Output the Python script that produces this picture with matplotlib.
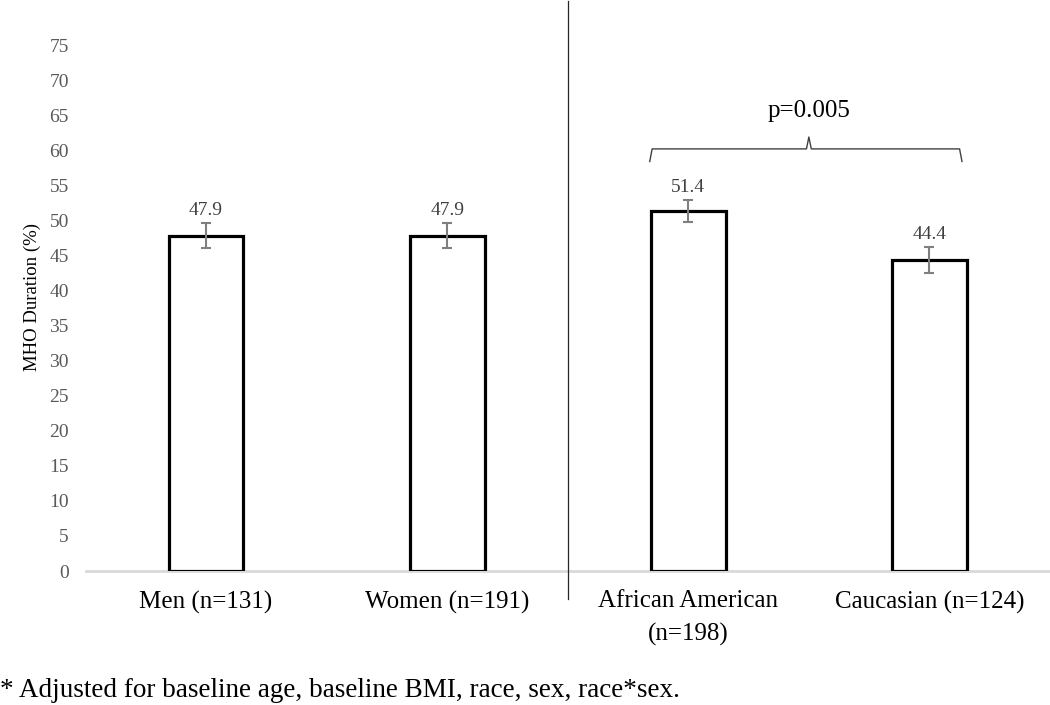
import numpy as np
import matplotlib
matplotlib.use("Agg")
import matplotlib.pyplot as plt

# ================================
# DATA
# ================================
categories = ["Men (n=131)", "Women (n=191)", "African American\n(n=198)", "Caucasian (n=124)"]
means = [47.9, 47.9, 51.4, 44.4]
errors = [1.8, 1.75, 1.6, 1.85]
value_labels = ["47.9", "47.9", "51.4", "44.4"]
yticks = list(range(0, 80, 5))
p_text = "p=0.005"
footnote = "* Adjusted for baseline age, baseline BMI, race, sex, race*sex."

plt.rcParams["font.family"] = ["Liberation Serif", "DejaVu Serif"]

fig = plt.figure(figsize=(10.5, 7.05), dpi=100)
ax = fig.add_axes([85.5 / 1050, 1 - 571 / 705, 1 - 85.5 / 1050, 560 / 705])

x = np.arange(len(categories))
bar_w = 0.31

ax.bar(x, means, width=bar_w, color="white", edgecolor="black", linewidth=2.3, zorder=2)
ax.errorbar(x, means, yerr=errors, fmt="none", ecolor="#7f7f7f", elinewidth=1.5,
            capsize=3.6, capthick=1.5, zorder=3)

# value labels above the error bars
for xi, m, e, lab in zip(x, means, errors, value_labels):
    ax.annotate(lab, (xi, m + e), xytext=(0, 6), textcoords="offset points",
                ha="center", va="baseline", fontsize=14, color="#404040")

ax.set_xlim(-0.5, len(categories) - 0.5)
ax.set_ylim(0, 80)
ax.set_yticks(yticks)
ax.set_xticks(x)
ax.set_xticklabels(categories, fontsize=18, color="black", linespacing=1.6)
ax.tick_params(axis="x", length=0, pad=14)
ax.tick_params(axis="y", length=0, pad=12, labelsize=14, labelcolor="#595959")

for s in ["top", "right", "left"]:
    ax.spines[s].set_visible(False)
ax.spines["bottom"].set_color("#d9d9d9")
ax.spines["bottom"].set_linewidth(2)
ax.spines["bottom"].set_zorder(1)

ax.set_ylabel("MHO Duration (%)", fontsize=13.5, color="black")
ax.yaxis.set_label_coords(-0.046, 0.49)

# vertical divider between sex and race groups
ax.axvline(1.5, ymin=-0.05, ymax=1.018, color="#262626", linewidth=0.9, clip_on=False)

# curly bracket over the race comparison
xl = x[2] - bar_w / 2 - 0.005
xr = x[3] + bar_w / 2 - 0.02
xm = (x[2] + x[3]) / 2
yb = max(m + e for m, e in zip(means[2:], errors[2:])) + 7.3
bc = "#404040"
ax.plot([xl, xl + 0.01, xm - 0.01, xm, xm + 0.01, xr - 0.01, xr],
        [yb - 1.8, yb, yb, yb + 1.7, yb, yb, yb - 1.8],
        color=bc, linewidth=1.0, clip_on=False)
ax.text(xm, yb + 4.6, p_text, ha="center", va="baseline", fontsize=18, color="black")

fig.text(0.0, 1 - 697 / 705, footnote, ha="left", va="baseline", fontsize=19.5, color="black")

fig.savefig("out.png", dpi=100)
